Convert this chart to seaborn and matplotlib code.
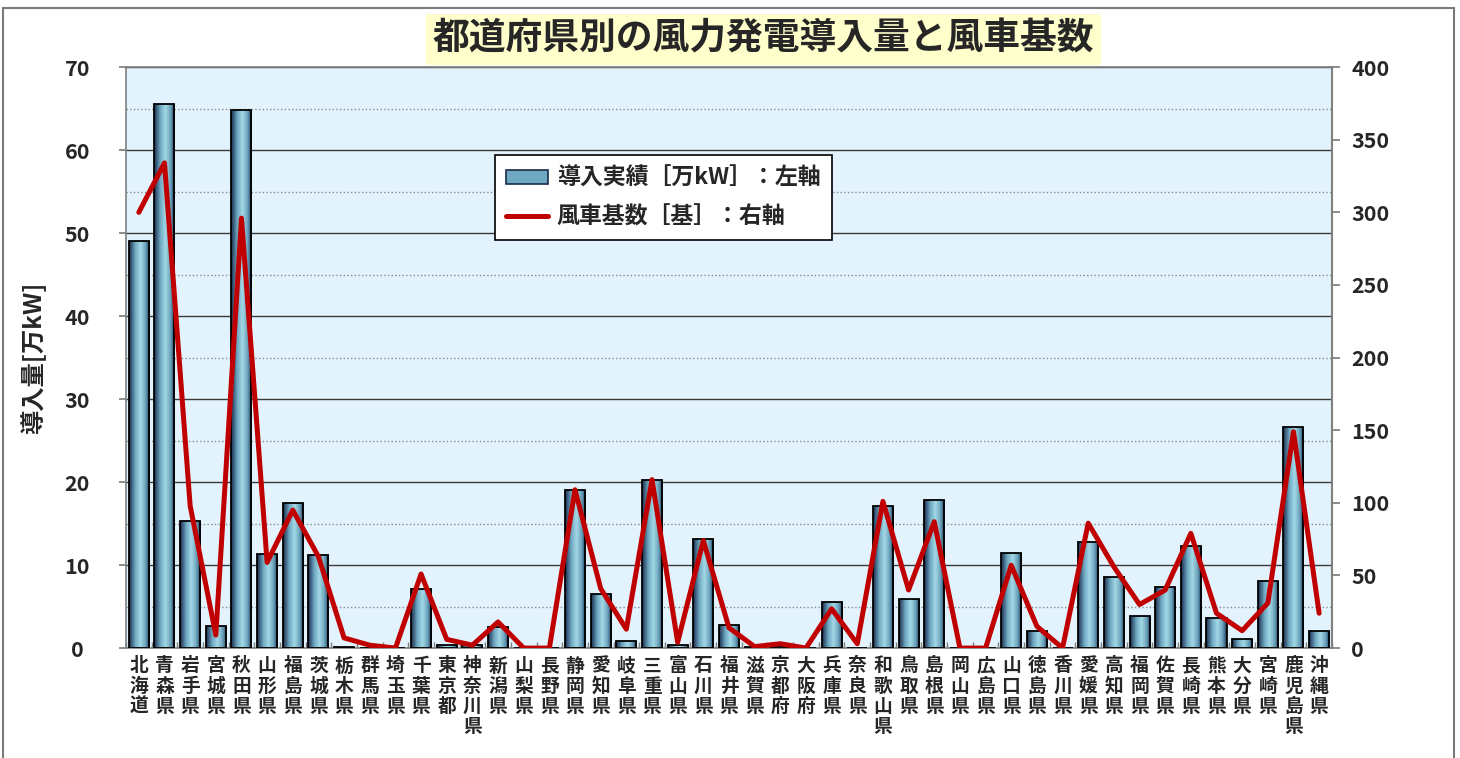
import numpy as np
import matplotlib
matplotlib.use("Agg")
import matplotlib.pyplot as plt
from matplotlib.colors import LinearSegmentedColormap
from matplotlib.patches import Patch, Rectangle
from matplotlib.lines import Line2D
import seaborn as sns

# --- data ---
prefs = ["北海道", "青森県", "岩手県", "宮城県", "秋田県", "山形県", "福島県", "茨城県",
         "栃木県", "群馬県", "埼玉県", "千葉県", "東京都", "神奈川県", "新潟県", "山梨県",
         "長野県", "静岡県", "愛知県", "岐阜県", "三重県", "富山県", "石川県", "福井県",
         "滋賀県", "京都府", "大阪府", "兵庫県", "奈良県", "和歌山県", "鳥取県", "島根県",
         "岡山県", "広島県", "山口県", "徳島県", "香川県", "愛媛県", "高知県", "福岡県",
         "佐賀県", "長崎県", "熊本県", "大分県", "宮崎県", "鹿児島県", "沖縄県"]
capacity = [49.1, 65.5, 15.3, 2.7, 64.8, 11.3, 17.5, 11.2, 0.1, 0.05, 0.0, 7.1,
            0.4, 0.35, 2.6, 0.0, 0.0, 19.1, 6.5, 0.9, 20.2, 0.35, 13.2, 2.8,
            0.15, 0.3, 0.0, 5.5, 0.05, 17.1, 5.9, 17.8, 0.0, 0.0, 11.5, 2.0,
            0.0, 12.8, 8.6, 3.9, 7.4, 12.3, 3.6, 1.1, 8.1, 26.6, 2.0]
turbines = [300, 334, 98, 9, 296, 59, 95, 63, 7, 2, 0, 51, 6, 2, 18, 0,
            0, 109, 41, 13, 116, 4, 74, 14, 1, 3, 0, 27, 3, 101, 40, 87,
            0, 0, 57, 15, 0, 86, 56, 30, 40, 79, 24, 12, 31, 149, 24]

TITLE = "都道府県別の風力発電導入量と風車基数"
BAR_LABEL = "導入実績［万kW］：左軸"
LINE_LABEL = "風車基数［基］：右軸"
YLABEL = "導入量[万kW]"
W = "bold"

sns.set_theme(style="white")
plt.rcParams["font.family"] = ["Noto Sans CJK JP", "DejaVu Sans"]
plt.rcParams["font.weight"] = W

fig = plt.figure(figsize=(14.6, 7.58), dpi=100)
ax = fig.add_axes([0.0863, 0.145, 0.826, 0.7665])
ax.set_facecolor("#E2F3FD")

n = len(prefs)
sns.barplot(x=prefs, y=capacity, ax=ax, width=0.78, color="#7fb6cc",
            edgecolor="black", linewidth=1.3, zorder=3)

# gradient fill for bars (dark edges, light centre)
grad_cmap = LinearSegmentedColormap.from_list(
    "bar", [(0, "#1a2c4c"), (0.3, "#6ea8c2"), (0.55, "#a3d8e6"),
            (0.8, "#6aa2bc"), (1, "#1f3656")])
grad = np.linspace(0, 1, 64).reshape(1, -1)


def fill_gradient(axis, patch):
    im = axis.imshow(grad, extent=[patch.get_x(), patch.get_x() + patch.get_width(),
                                   patch.get_y(), patch.get_y() + patch.get_height()],
                     aspect="auto", cmap=grad_cmap, zorder=patch.get_zorder() - 0.5,
                     interpolation="bilinear")
    im.set_clip_path(patch)
    patch.set_facecolor("none")


for p in ax.patches:
    if p.get_height() > 0:
        fill_gradient(ax, p)

ax.set_xlim(-0.5, n - 0.5)
ax.set_ylim(0, 70)
ax.set_yticks(np.arange(0, 71, 10))
ax.set_yticks(np.arange(5, 70, 10), minor=True)
ax.grid(which="major", axis="y", color="#3a3a3a", lw=1.0, ls="-", zorder=1)
ax.grid(which="minor", axis="y", color="#8a8a8a", lw=1.0, ls=":", zorder=1)
ax.set_axisbelow(True)

ax.set_xticks(np.arange(n))
ax.set_xticklabels(["\n".join(p) for p in prefs], fontsize=13.5,
                   fontweight=W, linespacing=1.08, va="top")
ax.set_xticks(np.arange(n + 1) - 0.5, minor=True)
ax.tick_params(axis="x", which="major", length=0, pad=6)
ax.tick_params(axis="x", which="minor", length=4, direction="in",
               color="#808080", bottom=True)
ax.tick_params(axis="y", which="major", labelsize=15.5, length=5,
               color="#808080", left=True, pad=30)
ax.tick_params(axis="y", which="minor", length=0)
for lab in ax.get_yticklabels():
    lab.set_fontweight(W)
    lab.set_ha("center")
ax.set_xlabel("")
ax.set_ylabel(YLABEL, fontsize=17.5, fontweight=W, labelpad=14)
for s in ["left", "bottom", "top"]:
    ax.spines[s].set_color("#808080")
    ax.spines[s].set_linewidth(1.2)

# right axis: turbine counts
ax2 = ax.twinx()
sns.lineplot(x=np.arange(n), y=turbines, ax=ax2, color="#C00000", lw=3.6,
             zorder=5)
ax2.set_ylim(0, 400)
ax2.set_yticks(np.arange(0, 401, 50))
ax2.tick_params(axis="y", labelsize=15.5, length=6, color="#808080",
                right=True, pad=8)
for lab in ax2.get_yticklabels():
    lab.set_fontweight(W)
ax2.set_ylabel("")
ax2.set_xlim(-0.5, n - 0.5)
ax2.spines["right"].set_color("#808080")
ax2.spines["right"].set_linewidth(1.5)
for s in ["left", "bottom", "top"]:
    ax2.spines[s].set_visible(False)

bar_handle = Patch(facecolor="#6ea8c2", edgecolor="#1a2c4c", lw=1.2)
line_handle = Line2D([0], [0], color="#C00000", lw=3.6)
leg = ax2.legend([bar_handle, line_handle], [BAR_LABEL, LINE_LABEL],
                 loc="upper left", bbox_to_anchor=(0.306, 0.848),
                 fontsize=16.5, frameon=True, fancybox=False, edgecolor="black",
                 framealpha=1, handlelength=1.8, handleheight=0.55,
                 handletextpad=0.4, borderpad=0.5, labelspacing=0.7,
                 borderaxespad=0)
leg.get_frame().set_linewidth(1.2)
for t in leg.get_texts():
    t.set_fontweight(W)

# title in a pale yellow box
fig.text(0.523, 0.948, TITLE, ha="center", va="center", fontsize=26.5,
         fontweight=W,
         bbox=dict(boxstyle="square,pad=0.18", facecolor="#FFFFCC",
                   edgecolor="none"))

# outer frame
fig.patches.append(Rectangle((0.002, -0.01), 0.994, 1.0, transform=fig.transFigure,
                             fill=False, edgecolor="#7a7a7a", lw=1.5))

fig.savefig("out.png", dpi=100)
